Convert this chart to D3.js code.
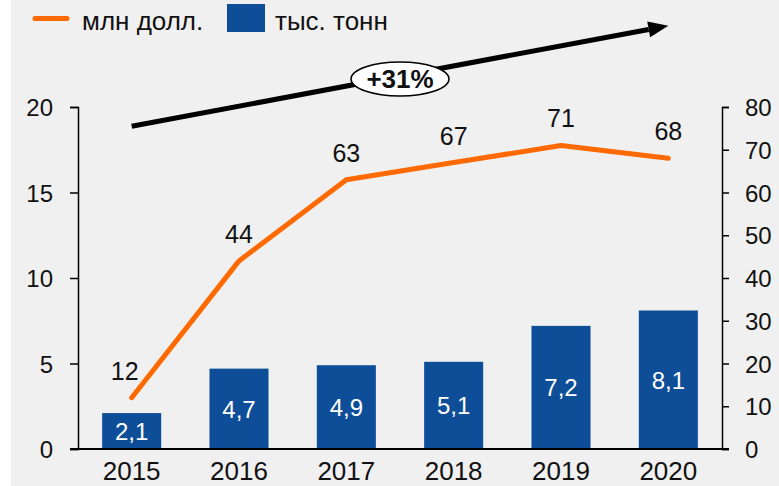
<!DOCTYPE html>
<html>
<head>
<meta charset="utf-8">
<script src="https://cdn.jsdelivr.net/npm/d3@7"></script>
<style>
  html, body { margin: 0; padding: 0; background: #fff; }
  svg { display: block; font-family: "Liberation Sans", Arial, sans-serif; }
  .axis path, .axis line { stroke: #000; stroke-width: 1.5; }
  .axis text { font-size: 24px; fill: #111; }
</style>
</head>
<body>
<svg id="chart"></svg>
<script>
'use strict';

var years = ['2015', '2016', '2017', '2018', '2019', '2020'];
var tonnes = [2.1, 4.7, 4.9, 5.1, 7.2, 8.1];        // тыс. тонн, left axis
var dollars = [12, 44, 63, 67, 71, 68];             // млн долл., right axis
var leftTicks = [0, 5, 10, 15, 20];
var rightTicks = [0, 10, 20, 30, 40, 50, 60, 70, 80];
var growthLabel = '+31%';
var arrowFrom = 75.5, arrowTo = 99;                 // right-axis values for trend arrow

var width = 779,
  height = 486,
  margin = {'top': 107, 'left': 78, 'right': 57, 'bottom': 37};

var blue = '#0e4d98', orange = '#ff6a00';
var ru = d3.formatLocale({decimal: ',', thousands: ' ', grouping: [3], currency: ['', '']});
var fmt1 = ru.format('.1f');

var svg = d3.select('#chart')
  .attr('width', width)
  .attr('height', height);

svg.append('rect')
  .attr('x', 11).attr('y', 0)
  .attr('width', width - 11).attr('height', height)
  .attr('fill', '#f0f0f0');

var xScale = d3.scaleBand()
  .domain(years)
  .range([margin.left, width - margin.right])
  .paddingInner(0.45)
  .paddingOuter(0.225);

var yLeft = d3.scaleLinear()
  .domain([0, 20])
  .range([height - margin.bottom, margin.top]);

var yRight = d3.scaleLinear()
  .domain([0, 80])
  .range([height - margin.bottom, margin.top]);

var cx = function (i) { return xScale(years[i]) + xScale.bandwidth() / 2; };

// bars
svg.append('g').selectAll('rect').data(tonnes).enter()
  .append('rect')
  .attr('x', function (d, i) { return xScale(years[i]); })
  .attr('y', function (d) { return yLeft(d); })
  .attr('width', xScale.bandwidth())
  .attr('height', function (d) { return yLeft(0) - yLeft(d); })
  .attr('fill', blue);

svg.append('g').selectAll('text').data(tonnes).enter()
  .append('text')
  .attr('x', function (d, i) { return cx(i); })
  .attr('y', function (d) { return (yLeft(d) + yLeft(0)) / 2 + 9; })
  .attr('text-anchor', 'middle')
  .attr('font-size', 24)
  .attr('fill', '#fff')
  .text(function (d) { return fmt1(d); });

// axes
var gl = svg.append('g')
  .attr('class', 'axis')
  .attr('transform', 'translate(' + margin.left + ',0)')
  .call(d3.axisLeft(yLeft).tickValues(leftTicks).tickSize(8).tickSizeOuter(8).tickPadding(17));

var gr = svg.append('g')
  .attr('class', 'axis')
  .attr('transform', 'translate(' + (width - margin.right) + ',0)')
  .call(d3.axisRight(yRight).tickValues(rightTicks).tickSize(7).tickSizeOuter(7).tickPadding(16));

[gl, gr].forEach(function (g) {
  g.selectAll('text').attr('dy', '0.36em');
});

svg.append('line')
  .attr('x1', margin.left - 8)
  .attr('x2', width - margin.right + 7)
  .attr('y1', yLeft(0))
  .attr('y2', yLeft(0))
  .attr('stroke', '#000')
  .attr('stroke-width', 2);

svg.append('g').selectAll('text').data(years).enter()
  .append('text')
  .attr('x', function (d, i) { return cx(i); })
  .attr('y', height - 6)
  .attr('text-anchor', 'middle')
  .attr('font-size', 26)
  .attr('fill', '#111')
  .text(function (d) { return d; });

// line
var line = d3.line()
  .x(function (d, i) { return cx(i); })
  .y(function (d) { return yRight(d); });

svg.append('path')
  .datum(dollars)
  .attr('d', line)
  .attr('fill', 'none')
  .attr('stroke', orange)
  .attr('stroke-width', 5)
  .attr('stroke-linecap', 'round')
  .attr('stroke-linejoin', 'round');

svg.append('g').selectAll('text').data(dollars).enter()
  .append('text')
  .attr('x', function (d, i) { return cx(i) - (i === 0 ? 7 : 0); })
  .attr('y', function (d) { return yRight(d) - 18; })
  .attr('text-anchor', 'middle')
  .attr('font-size', 25)
  .attr('fill', '#111')
  .text(function (d) { return d; });

// trend arrow
var ax1 = cx(0), ay1 = yRight(arrowFrom),
  ax2 = cx(years.length - 1), ay2 = yRight(arrowTo);
var ang = Math.atan2(ay2 - ay1, ax2 - ax1);
var headLen = 20, headW = 8;
var bx = ax2 - headLen * Math.cos(ang), by = ay2 - headLen * Math.sin(ang);

svg.append('line')
  .attr('x1', ax1).attr('y1', ay1)
  .attr('x2', bx).attr('y2', by)
  .attr('stroke', '#000')
  .attr('stroke-width', 5);

svg.append('path')
  .attr('d', 'M' + ax2 + ',' + ay2 +
    'L' + (bx + headW * Math.sin(ang)) + ',' + (by - headW * Math.cos(ang)) +
    'L' + (bx - headW * Math.sin(ang)) + ',' + (by + headW * Math.cos(ang)) + 'Z')
  .attr('fill', '#000');

var mx = (cx(2) + cx(3)) / 2;
var my = ay1 + (ay2 - ay1) * (mx - ax1) / (ax2 - ax1) + 3;
svg.append('ellipse')
  .attr('cx', mx).attr('cy', my)
  .attr('rx', 49).attr('ry', 17)
  .attr('fill', '#fff')
  .attr('stroke', '#000')
  .attr('stroke-width', 1.5);
svg.append('text')
  .attr('x', mx).attr('y', my + 9)
  .attr('text-anchor', 'middle')
  .attr('font-size', 26)
  .attr('font-weight', 'bold')
  .attr('fill', '#111')
  .text(growthLabel);

// legend
var legend = svg.append('g');
legend.append('line')
  .attr('x1', 35).attr('x2', 67)
  .attr('y1', 18.5).attr('y2', 18.5)
  .attr('stroke', orange)
  .attr('stroke-width', 5)
  .attr('stroke-linecap', 'round');
legend.append('text')
  .attr('x', 82).attr('y', 30)
  .attr('font-size', 26)
  .attr('fill', '#111')
  .text('млн долл.');
legend.append('rect')
  .attr('x', 227).attr('y', 4)
  .attr('width', 38).attr('height', 28)
  .attr('fill', blue);
legend.append('text')
  .attr('x', 275).attr('y', 30)
  .attr('font-size', 26)
  .attr('fill', '#111')
  .text('тыс. тонн');
</script>
</body>
</html>
